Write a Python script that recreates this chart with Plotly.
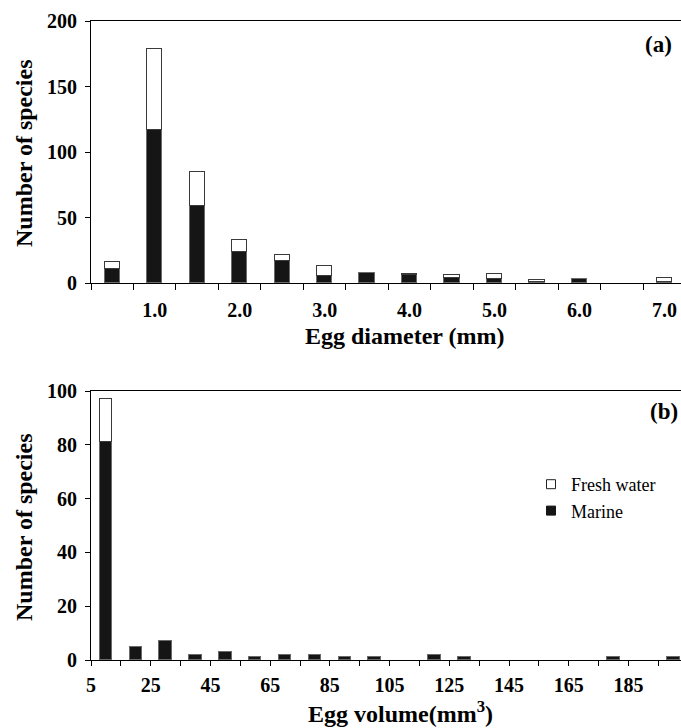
import plotly.graph_objects as go

# ---------------- data ----------------
diam_bins = [0.5, 1.0, 1.5, 2.0, 2.5, 3.0, 3.5, 4.0, 4.5, 5.0, 5.5, 6.0, 6.5, 7.0]
marine_diam = [11, 117, 59, 24, 17, 5, 8, 6, 4, 3, 1, 3, 0, 1]
fresh_diam = [5, 62, 26, 9, 4, 8, 0, 1, 2, 4, 1, 0, 0, 3]
diam_ticks = [1.0, 2.0, 3.0, 4.0, 5.0, 6.0, 7.0]
diam_ticktext = ["1.0", "2.0", "3.0", "4.0", "5.0", "6.0", "7.0"]

vol_bins = [10, 20, 30, 40, 50, 60, 70, 80, 90, 100,
            110, 120, 130, 140, 150, 160, 170, 180, 190, 200]
marine_vol = [81, 5, 7, 2, 3, 1, 2, 2, 1, 1, 0, 2, 1, 0, 0, 0, 0, 1, 0, 1]
fresh_vol = [16, 0, 0, 0, 0, 0, 0, 0, 0, 0, 0, 0, 0, 0, 0, 0, 0, 0, 0, 0]
vol_ticks = [5, 25, 45, 65, 85, 105, 125, 145, 165, 185]
vol_ticktext = ["5", "25", "45", "65", "85", "105", "125", "145", "165", "185"]

# ---------------- style ----------------
FONT = "Liberation Serif, Times New Roman, serif"
W, H = 681, 728
BLACK_FILL = "#151515"


def nz(vals):
    return [v if v else None for v in vals]


fig = go.Figure()

# panel (a)
fig.add_trace(go.Bar(x=diam_bins, y=nz(marine_diam), width=0.18, name="Marine",
                     marker=dict(color=BLACK_FILL, line=dict(color="#6a6a6a", width=1)),
                     xaxis="x", yaxis="y", showlegend=False))
fig.add_trace(go.Bar(x=diam_bins, y=nz(fresh_diam), width=0.18, name="Fresh water",
                     marker=dict(color="white", line=dict(color="#3a3a3a", width=1)),
                     xaxis="x", yaxis="y", showlegend=False))
# panel (b)
fig.add_trace(go.Bar(x=vol_bins, y=nz(marine_vol), width=4.2, name="Marine",
                     marker=dict(color=BLACK_FILL, line=dict(color="#6a6a6a", width=1)),
                     xaxis="x2", yaxis="y2", showlegend=False))
fig.add_trace(go.Bar(x=vol_bins, y=nz(fresh_vol), width=4.2, name="Fresh water",
                     marker=dict(color="white", line=dict(color="#3a3a3a", width=1)),
                     xaxis="x2", yaxis="y2", showlegend=False))

# legend entries (small squares)
fig.add_trace(go.Scatter(x=[None], y=[None], mode="markers", name="Fresh water",
                         marker=dict(symbol="square", size=9, color="white",
                                     line=dict(color="#222", width=1)),
                         xaxis="x2", yaxis="y2", legendrank=1))
fig.add_trace(go.Scatter(x=[None], y=[None], mode="markers", name="Marine",
                         marker=dict(symbol="square", size=9, color=BLACK_FILL,
                                     line=dict(color=BLACK_FILL, width=1)),
                         xaxis="x2", yaxis="y2", legendrank=2))

x0 = 91 / W
tickfont = dict(family=FONT, size=20, color="black", weight="bold")

common_x = dict(showgrid=False, zeroline=False, showline=True, linecolor="black",
                linewidth=1, mirror=True, tickfont=tickfont, fixedrange=True,
                automargin=False)
common_y = dict(showgrid=False, zeroline=False, showline=True, linecolor="black",
                linewidth=1, ticks="outside", ticklen=5, tickcolor="black",
                tickfont=tickfont, ticklabelstandoff=4, automargin=False,
                fixedrange=True)

fig.update_layout(
    width=W, height=H,
    margin=dict(l=0, r=0, t=0, b=0, autoexpand=False),
    paper_bgcolor="white", plot_bgcolor="white",
    barmode="stack", bargap=0,
    font=dict(family=FONT, color="black"),
    xaxis=dict(common_x, domain=[x0, 1], range=[0.25, 7.194],
               tickmode="array", tickvals=diam_ticks, ticktext=diam_ticktext,
               ticks="", ticklabelstandoff=9,
               minor=dict(tickmode="array",
                          tickvals=[b - 0.25 for b in diam_bins],
                          ticks="outside", ticklen=6, tickcolor="black", tickwidth=1),
               anchor="y"),
    yaxis=dict(common_y, domain=[1 - 283 / H, 1 - 21 / H], range=[0, 200],
               tickmode="array", tickvals=[0, 50, 100, 150, 200], anchor="x"),
    xaxis2=dict(common_x, domain=[x0, 1], range=[5, 202.6],
                tickmode="array", tickvals=vol_ticks, ticktext=vol_ticktext,
                ticks="outside", ticklen=5, tickcolor="black", ticklabelstandoff=2,
                minor=dict(tickmode="linear", tick0=5, dtick=10,
                           ticks="outside", ticklen=5, tickcolor="black", tickwidth=1),
                anchor="y2"),
    yaxis2=dict(common_y, domain=[1 - 660 / H, 1 - 391 / H], range=[0, 100],
                tickmode="array", tickvals=[0, 20, 40, 60, 80, 100], anchor="x2"),
    legend=dict(x=531 / W, y=1 - 466 / H, xanchor="left", yanchor="top",
                bgcolor="rgba(0,0,0,0)", traceorder="normal",
                font=dict(family=FONT, size=18, color="black"),
                itemwidth=30, tracegroupgap=0),
    showlegend=True,
)

title_font = dict(family=FONT, size=24, color="black")
ann = [
    dict(text="<b>(a)</b>", x=674 / W, y=1 - 44 / H, xanchor="right", yanchor="middle",
         font=dict(family=FONT, size=23, color="black")),
    dict(text="<b>(b)</b>", x=680 / W, y=1 - 411 / H, xanchor="right", yanchor="middle",
         font=dict(family=FONT, size=23, color="black")),
    dict(text="<b>Egg diameter (mm)</b>", x=405 / W, y=1 - 336 / H,
         xanchor="center", yanchor="middle", font=title_font),
    dict(text="<b>Egg volume(mm<sup>3</sup>)</b>", x=400 / W, y=1 - 712 / H,
         xanchor="center", yanchor="middle", font=title_font),
    dict(text="<b>Number of species</b>", x=24 / W, y=1 - 153 / H, textangle=-90,
         xanchor="center", yanchor="middle", font=title_font),
    dict(text="<b>Number of species</b>", x=24 / W, y=1 - 527 / H, textangle=-90,
         xanchor="center", yanchor="middle", font=title_font),
]
for a in ann:
    a.update(xref="paper", yref="paper", showarrow=False)
fig.update_layout(annotations=ann)

fig.write_html(
    "out.html",
    config={"displayModeBar": False},
    post_script="document.body.style.margin='0';document.body.style.overflow='hidden';",
)
